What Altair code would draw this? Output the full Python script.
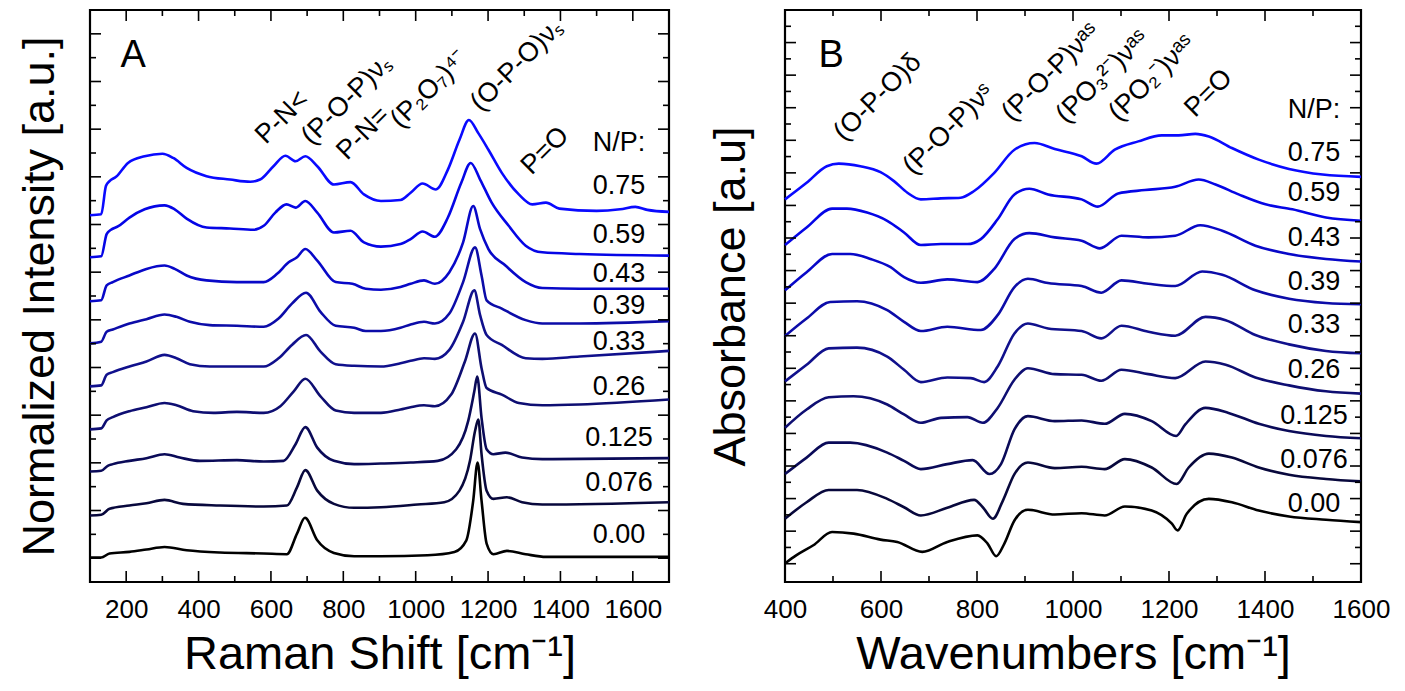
import altair as alt
import pandas as pd

FONT = "Liberation Sans"
W_L, W_R, H = 579, 576, 572
YMAX = 57.6

np_labels = ["0.00", "0.076", "0.125", "0.26", "0.33", "0.39", "0.43", "0.59", "0.75"]
colors = ["#000000", "#08083c", "#0a0a58", "#0e0e72", "#10108c", "#0c0ca8", "#0808c8", "#0505e6", "#0a0aff"]

# ---------------- Raman (panel A) ----------------
raman_x_000 = [100, 131, 154, 209, 256, 306, 367, 459, 580, 644, 672, 694, 728, 774, 830, 904, 1033, 1107, 1140, 1159, 1171, 1182, 1196, 1215, 1252, 1304, 1360, 1700]
raman_y_000 = [2.47, 2.47, 2.87, 3.03, 3.27, 3.53, 3.2, 2.97, 2.87, 2.8, 4.87, 6.47, 4.2, 2.93, 2.6, 2.6, 2.7, 3.03, 4.2, 8.2, 12.03, 8.2, 3.87, 2.8, 3.13, 2.8, 2.53, 2.53]
raman_x_076 = [100, 131, 154, 209, 256, 306, 357, 459, 580, 644, 672, 695, 728, 774, 830, 904, 1005, 1079, 1121, 1150, 1164, 1173, 1182, 1196, 1215, 1252, 1294, 1350, 1700]
raman_y_076 = [6.7, 6.77, 7.37, 7.7, 7.93, 8.27, 7.87, 7.7, 7.6, 7.7, 9.53, 11.27, 9.2, 7.87, 7.47, 7.53, 7.8, 8.03, 9.2, 12.2, 15.2, 16.37, 12.87, 9.2, 8.37, 8.53, 8.03, 7.8, 8.03]
raman_x_125 = [100, 131, 149, 163, 209, 256, 306, 348, 404, 506, 580, 635, 668, 695, 728, 774, 830, 904, 986, 1061, 1112, 1145, 1162, 1170, 1182, 1196, 1215, 1248, 1294, 1350, 1700]
raman_y_125 = [11.13, 11.2, 11.7, 11.87, 12.2, 12.47, 12.87, 12.53, 12.2, 12.27, 12.13, 12.2, 13.87, 15.6, 13.53, 12.2, 11.87, 11.93, 12.03, 12.2, 13.37, 16.2, 19.2, 20.7, 16.53, 13.37, 12.87, 13.03, 12.53, 12.37, 12.47]
raman_x_26 = [100, 131, 146, 163, 209, 256, 306, 339, 385, 441, 506, 580, 626, 663, 695, 737, 779, 830, 904, 958, 986, 1023, 1053, 1098, 1136, 1164, 1182, 1196, 1238, 1285, 1350, 1453, 1700]
raman_y_26 = [15.37, 15.47, 16.27, 16.6, 17.2, 17.6, 18.03, 17.8, 17.2, 17.03, 17.13, 17.03, 17.7, 19.2, 20.47, 18.7, 17.27, 17.03, 17.03, 17.37, 17.6, 17.8, 17.7, 18.87, 22.2, 25.03, 21.53, 19.53, 18.87, 18.03, 17.8, 17.87, 18.37]
raman_x_33 = [100, 131, 146, 163, 209, 256, 306, 339, 376, 431, 506, 580, 621, 658, 697, 737, 779, 830, 904, 958, 986, 1023, 1053, 1093, 1131, 1162, 1178, 1196, 1238, 1304, 1350, 1453, 1700]
raman_y_33 = [19.7, 19.8, 20.87, 21.13, 21.7, 22.2, 22.87, 22.53, 21.93, 21.7, 21.7, 21.7, 22.53, 23.87, 24.87, 23.2, 21.93, 21.77, 21.7, 22.03, 22.27, 22.53, 22.47, 23.37, 26.2, 29.37, 26.87, 24.87, 23.87, 22.53, 22.47, 22.7, 23.27]
raman_x_39 = [100, 131, 146, 163, 209, 256, 306, 339, 376, 431, 506, 580, 621, 658, 697, 737, 779, 830, 862, 904, 958, 986, 1023, 1053, 1093, 1131, 1164, 1182, 1196, 1238, 1304, 1350, 1453, 1700]
raman_y_39 = [24.03, 24.2, 25.2, 25.43, 26.03, 26.47, 26.93, 26.7, 26.2, 25.87, 25.8, 25.7, 26.53, 28.03, 29.13, 27.2, 25.8, 25.6, 25.27, 25.27, 25.6, 25.93, 26.2, 26.03, 27.03, 30.2, 33.7, 30.87, 28.37, 27.53, 26.37, 26.03, 26.03, 26.27]
raman_x_43 = [100, 131, 146, 163, 209, 256, 306, 334, 367, 422, 506, 580, 617, 649, 672, 695, 728, 779, 825, 862, 904, 958, 986, 1023, 1053, 1093, 1131, 1159, 1178, 1201, 1248, 1304, 1350, 1453, 1700]
raman_y_43 = [28.27, 28.37, 29.87, 30.2, 30.87, 31.53, 31.87, 31.53, 30.87, 30.37, 30.2, 30.2, 31.03, 32.2, 32.7, 33.53, 32.37, 30.2, 30.03, 29.53, 29.43, 29.7, 30.03, 30.37, 30.03, 31.2, 34.2, 37.87, 35.53, 33.53, 31.87, 30.2, 29.6, 29.53, 29.53]
raman_x_59 = [100, 131, 146, 158, 177, 209, 251, 306, 334, 367, 422, 487, 552, 580, 612, 643, 668, 695, 728, 774, 820, 857, 904, 958, 986, 1019, 1053, 1089, 1126, 1152, 1178, 1210, 1257, 1304, 1350, 1453, 1700]
raman_y_59 = [32.7, 32.8, 35.03, 35.47, 35.8, 36.7, 37.53, 37.93, 37.53, 36.6, 35.7, 35.6, 35.47, 35.87, 37.2, 38.03, 37.7, 38.37, 37.2, 35.2, 35.37, 34.2, 33.77, 34.03, 34.53, 35.3, 34.77, 36.7, 40.2, 42.2, 40.53, 38.2, 35.87, 33.87, 33.2, 33.03, 32.87]
raman_x_75 = [100, 131, 144, 154, 172, 205, 251, 300, 330, 367, 422, 487, 543, 570, 607, 640, 668, 695, 728, 774, 820, 857, 904, 958, 986, 1019, 1056, 1089, 1121, 1147, 1173, 1201, 1238, 1285, 1322, 1360, 1397, 1500, 1565, 1607, 1640, 1700]
raman_y_75 = [36.93, 37.03, 39.87, 40.37, 40.8, 42.2, 42.87, 43.13, 42.7, 41.7, 40.87, 40.53, 40.3, 40.53, 41.87, 42.93, 42.37, 42.87, 41.87, 40.03, 40.27, 39.03, 38.37, 38.47, 39.2, 40.13, 39.53, 41.53, 44.53, 46.53, 45.2, 43.53, 41.2, 39.03, 38.03, 38.2, 37.6, 37.37, 37.53, 37.77, 37.47, 37.27]

# ---------------- FTIR (panel B) ----------------
ir_x_000 = [400, 424, 459, 498, 543, 599, 634, 686, 738, 801, 822, 840, 857, 878, 906, 962, 1018, 1066, 1108, 1164, 1206, 1218, 1237, 1283, 1331, 1387, 1450, 1527, 1600]
ir_y_000 = [1.87, 2.7, 3.7, 5.03, 4.87, 4.27, 4.03, 3.03, 4.03, 4.7, 3.87, 2.6, 3.87, 6.2, 7.27, 6.8, 6.93, 6.7, 7.6, 7.2, 5.87, 5.2, 6.87, 8.37, 8.03, 7.2, 6.6, 6.27, 6.03]
ir_x_076 = [400, 445, 491, 550, 613, 648, 683, 738, 794, 812, 833, 854, 878, 906, 962, 1018, 1066, 1108, 1164, 1216, 1241, 1283, 1331, 1387, 1450, 1527, 1600]
ir_y_076 = [6.37, 8.03, 9.27, 9.27, 8.37, 7.53, 6.7, 7.47, 8.27, 7.53, 6.37, 8.2, 10.87, 12.03, 11.47, 11.6, 11.37, 12.37, 11.53, 9.87, 11.53, 12.93, 12.53, 11.53, 10.8, 10.37, 10.13]
ir_x_125 = [400, 445, 491, 536, 613, 648, 683, 738, 791, 826, 850, 878, 906, 962, 1018, 1066, 1108, 1164, 1215, 1234, 1276, 1324, 1387, 1450, 1527, 1600]
ir_y_125 = [10.87, 12.53, 14.03, 14.03, 13.03, 12.2, 11.37, 11.87, 12.27, 10.87, 11.87, 15.37, 16.7, 16.2, 16.27, 15.93, 16.93, 16.2, 14.7, 15.87, 17.53, 17.03, 15.93, 15.2, 14.7, 14.47]
ir_x_26 = [400, 445, 491, 543, 613, 648, 683, 725, 780, 812, 843, 878, 906, 962, 1018, 1059, 1101, 1157, 1213, 1276, 1318, 1380, 1450, 1527, 1600]
ir_y_26 = [15.53, 17.37, 18.6, 18.7, 17.87, 16.87, 16.03, 16.53, 16.6, 16.03, 17.53, 20.37, 21.53, 20.93, 20.87, 20.27, 21.37, 20.93, 20.53, 22.2, 21.87, 20.6, 19.8, 19.2, 18.97]
ir_x_33 = [400, 445, 491, 550, 613, 648, 683, 738, 787, 815, 843, 878, 906, 948, 1018, 1059, 1101, 1157, 1213, 1276, 1318, 1380, 1450, 1527, 1600]
ir_y_33 = [20.2, 21.87, 23.53, 23.6, 22.7, 21.37, 20.13, 20.6, 20.53, 20.13, 21.7, 25.03, 26.03, 25.53, 25.27, 24.53, 25.8, 25.2, 24.8, 26.7, 26.37, 24.87, 23.93, 23.27, 23.03]
ir_x_39 = [400, 445, 494, 550, 613, 648, 683, 738, 808, 843, 878, 906, 948, 1018, 1059, 1101, 1157, 1213, 1269, 1311, 1380, 1450, 1527, 1600]
ir_y_39 = [24.77, 26.53, 28.2, 28.27, 27.37, 26.2, 25.27, 25.7, 25.37, 26.87, 29.7, 30.53, 30.1, 29.8, 29.13, 30.37, 30.03, 29.8, 31.27, 30.93, 29.37, 28.53, 28.1, 27.97]
ir_x_43 = [400, 445, 498, 536, 578, 620, 648, 683, 738, 801, 836, 878, 909, 962, 1018, 1056, 1101, 1157, 1213, 1265, 1311, 1380, 1450, 1527, 1600]
ir_y_43 = [29.37, 31.2, 33.03, 33.03, 32.53, 31.7, 30.7, 30.13, 30.47, 30.2, 31.53, 34.53, 35.13, 34.7, 34.37, 33.6, 34.87, 34.7, 34.87, 35.93, 35.37, 33.87, 33.03, 32.53, 32.27]
ir_x_59 = [400, 445, 498, 529, 571, 613, 648, 683, 725, 780, 808, 843, 878, 909, 948, 1018, 1052, 1094, 1150, 1213, 1262, 1297, 1345, 1401, 1457, 1527, 1600]
ir_y_59 = [33.93, 35.7, 37.6, 37.6, 37.2, 36.37, 35.2, 33.93, 34.03, 34.03, 34.53, 36.53, 39.03, 39.6, 39.03, 38.53, 37.8, 39.13, 39.47, 39.8, 40.53, 40.03, 39.03, 38.03, 37.53, 36.7, 36.37]
ir_x_75 = [400, 445, 487, 512, 557, 599, 627, 655, 683, 725, 766, 794, 836, 878, 920, 962, 1018, 1049, 1087, 1136, 1185, 1220, 1255, 1283, 1331, 1387, 1450, 1520, 1600]
ir_y_75 = [38.53, 40.2, 41.87, 42.13, 41.87, 41.27, 40.37, 39.2, 38.53, 38.63, 38.7, 39.37, 41.2, 43.53, 44.2, 43.6, 42.87, 42.13, 43.53, 44.37, 44.97, 44.97, 45.13, 44.87, 43.7, 42.53, 41.6, 41.03, 40.8]

# ---------------- labels / annotations ----------------
raman_ann_text = ["P-N<", "(P-O-P)νₛ", "P-N=", "(P₂O₇)⁴⁻", "(O-P-O)νₛ", "P=O"]
raman_ann_x = [586, 713, 810, 959, 1180, 1320]
raman_ann_y = [44.0, 43.9, 42.4, 45.6, 47.3, 40.9]
raman_np_x = 1562
raman_np_y = [4.7, 9.93, 14.47, 19.6, 24.2, 27.8, 31.03, 34.93, 39.9]
raman_head_y = 44.2

ir_ann_text = ["(O-P-O)δ", "(P-O-P)νˢ", "(P-O-P)νᵃˢ", "(PO₃²⁻)νᵃˢ", "(PO₂⁻)νᵃˢ", "P=O"]
ir_ann_x = [523, 667, 873, 986, 1096, 1254]
ir_ann_y = [44.3, 40.9, 46.3, 46.1, 46.3, 46.7]
ir_np_x = 1502
ir_np_y = [7.87, 12.27, 16.7, 21.37, 25.93, 30.2, 34.6, 39.13, 43.25]
ir_head_y = 47.5

raman_xlabels = [200, 400, 600, 800, 1000, 1200, 1400, 1600]
raman_xminor = [300, 500, 700, 900, 1100, 1300, 1500]
ir_xlabels = [400, 600, 800, 1000, 1200, 1400, 1600]
ir_xminor = [500, 700, 900, 1100, 1300, 1500]
raman_ymajor = [2.4 * k for k in range(1, 24, 2)]
raman_yminor = [2.4 * k for k in range(2, 24, 2)]
ir_ymajor = [1.84 + 3.28 * k for k in range(0, 17)]
ir_yminor = [0.2 + 3.28 * k for k in range(1, 18)]


def curves_df(xs, ys):
    rows = []
    for lab, xa, ya in zip(np_labels, xs, ys):
        for a, b in zip(xa, ya):
            rows.append({"series": lab, "x": a, "y": b})
    return pd.DataFrame(rows)


def panel(df, xdom, width, xtitle, ytitle, xlabels, xminor, ymajor, yminor,
          ann_text, ann_x, ann_y, np_x, np_y, head_y, letter, letter_x, ypad):
    xs = alt.Scale(domain=xdom, nice=False, zero=False)
    ys = alt.Scale(domain=[0, YMAX], nice=False, zero=False)
    xaxis = alt.Axis(
        values=xlabels, title=xtitle, ticks=False, domain=False, grid=False, format="d",
        labelFontSize=26, labelPadding=14, labelFont=FONT, labelColor="black", labelFlush=False,
        titleFont=FONT, titleFontSize=47, titleFontWeight="normal", titlePadding=9, titleColor="black")
    yaxis = alt.Axis(
        labels=False, ticks=False, domain=False, grid=False, title=ytitle,
        titleFont=FONT, titleFontSize=45, titleFontWeight="normal", titlePadding=ypad, titleColor="black")

    def X(f):
        return alt.X(f, scale=xs, axis=xaxis)

    def Y(f):
        return alt.Y(f, scale=ys, axis=yaxis)

    lines = alt.Chart(df).mark_line(strokeWidth=2.6, interpolate="monotone", strokeJoin="round").encode(
        x=X("x:Q"), y=Y("y:Q"),
        color=alt.Color("series:N", scale=alt.Scale(domain=np_labels, range=colors), legend=None),
    )
    layers = [lines]

    def xt(vals, size):
        base = alt.Chart(pd.DataFrame({"t": vals})).mark_rule(color="black", strokeWidth=1.6)
        return [base.encode(x=X("t:Q"), y=alt.value(H), y2=alt.value(H - size)),
                base.encode(x=X("t:Q"), y=alt.value(0), y2=alt.value(size))]

    def yt(vals, size):
        base = alt.Chart(pd.DataFrame({"t": vals})).mark_rule(color="black", strokeWidth=1.6)
        return [base.encode(y=Y("t:Q"), x=alt.value(0), x2=alt.value(size)),
                base.encode(y=Y("t:Q"), x=alt.value(width), x2=alt.value(width - size))]

    layers += xt(xlabels, 11) + xt(xminor, 6) + yt(ymajor, 11) + yt(yminor, 6)

    ann = pd.DataFrame({"x": ann_x, "y": ann_y, "label": ann_text})
    layers.append(alt.Chart(ann).mark_text(angle=315, align="left", baseline="alphabetic",
                                           fontSize=27, font=FONT, color="black").encode(
        x=X("x:Q"), y=Y("y:Q"), text="label:N"))

    npdf = pd.DataFrame({"x": [np_x] * len(np_labels) + [np_x], "y": np_y + [head_y],
                         "label": np_labels + ["N/P:"]})
    layers.append(alt.Chart(npdf).mark_text(align="center", baseline="middle",
                                            fontSize=27, font=FONT, color="black").encode(
        x=X("x:Q"), y=Y("y:Q"), text="label:N"))

    let = pd.DataFrame({"x": [letter_x], "y": [53.0], "label": [letter]})
    layers.append(alt.Chart(let).mark_text(align="center", baseline="middle",
                                           fontSize=38, font=FONT, color="black").encode(
        x=X("x:Q"), y=Y("y:Q"), text="label:N"))

    return alt.layer(*layers).properties(width=width, height=H)


raman_df = curves_df([raman_x_000, raman_x_076, raman_x_125, raman_x_26, raman_x_33, raman_x_39, raman_x_43, raman_x_59, raman_x_75],
                     [raman_y_000, raman_y_076, raman_y_125, raman_y_26, raman_y_33, raman_y_39, raman_y_43, raman_y_59, raman_y_75])
ir_df = curves_df([ir_x_000, ir_x_076, ir_x_125, ir_x_26, ir_x_33, ir_x_39, ir_x_43, ir_x_59, ir_x_75],
                  [ir_y_000, ir_y_076, ir_y_125, ir_y_26, ir_y_33, ir_y_39, ir_y_43, ir_y_59, ir_y_75])

left = panel(raman_df, [100, 1700], W_L, "Raman Shift [cm⁻¹]", "Normalized Intensity [a.u.]",
             raman_xlabels, raman_xminor, raman_ymajor, raman_yminor,
             raman_ann_text, raman_ann_x, raman_ann_y, raman_np_x, raman_np_y, raman_head_y, "A", 219, 28)
right = panel(ir_df, [400, 1600], W_R, "Wavenumbers [cm⁻¹]", "Absorbance [a.u]",
              ir_xlabels, ir_xminor, ir_ymajor, ir_yminor,
              ir_ann_text, ir_ann_x, ir_ann_y, ir_np_x, ir_np_y, ir_head_y, "B", 496, 32)

chart = alt.hconcat(left, right, spacing=34).resolve_scale(x="independent", y="independent").properties(
    padding={"left": 7, "top": 0, "right": 0, "bottom": 0}, background="white"
).configure(font=FONT).configure_view(stroke="black", strokeWidth=2.2)

chart.save("out.html", embed_options={"renderer": "svg", "actions": False})
